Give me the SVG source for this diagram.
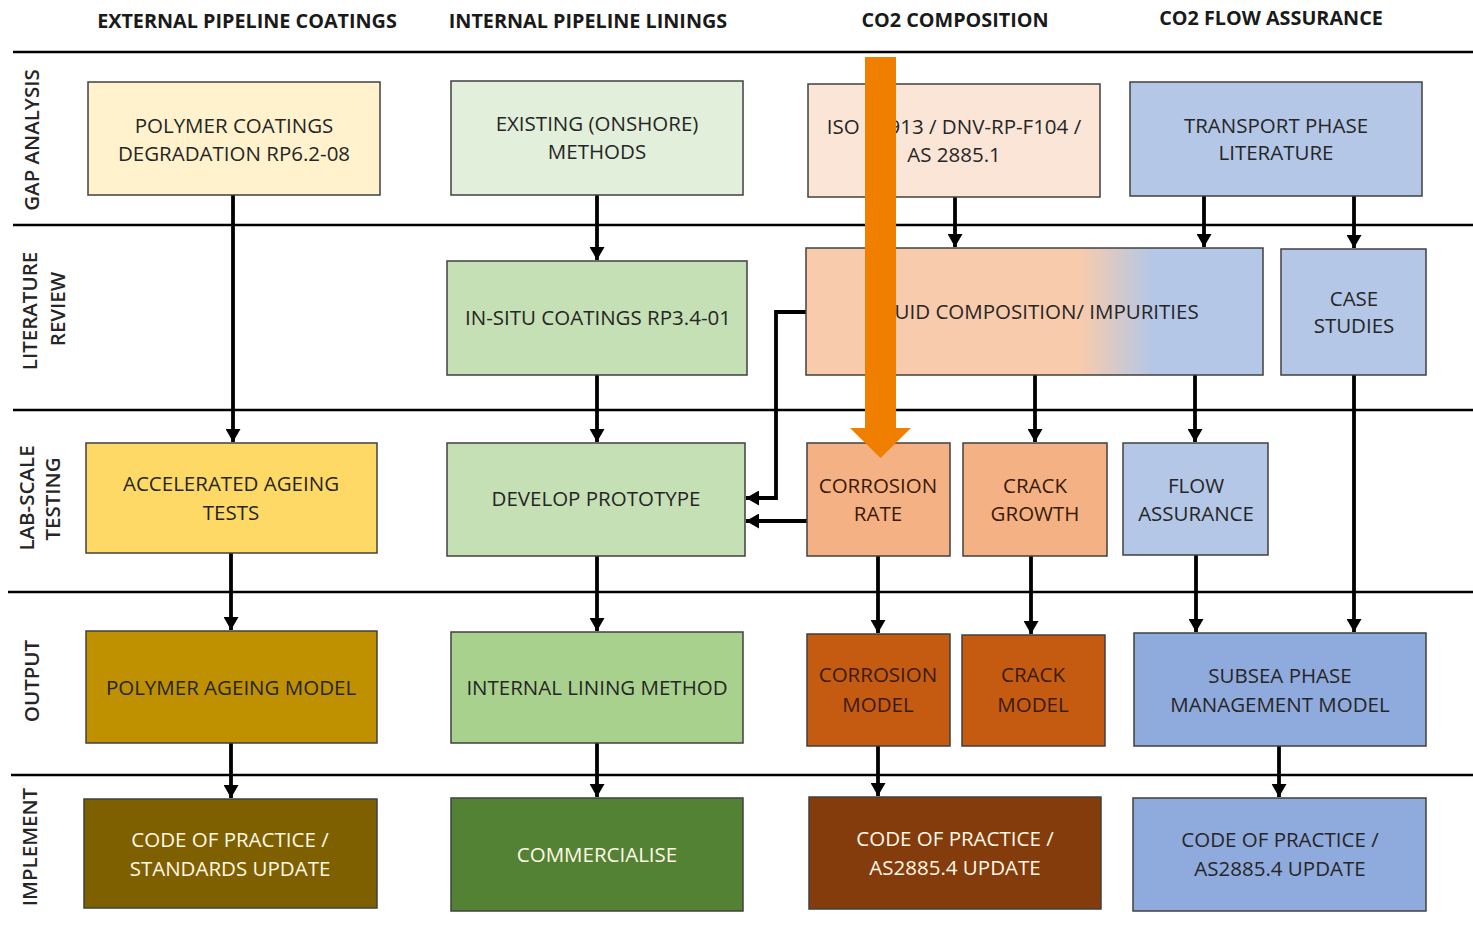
<svg xmlns="http://www.w3.org/2000/svg" width="1473" height="926" viewBox="0 0 1473 926">
<style>
.bx{stroke:#404040;stroke-width:1.5}
.t{font-family:"Open Sans","Liberation Sans",sans-serif;font-size:20.5px;fill:#262626;text-anchor:middle}
.tw{font-family:"Open Sans","Liberation Sans",sans-serif;font-size:20.5px;fill:#FFF8E6;text-anchor:middle}
.tb{font-family:"Open Sans","Liberation Sans",sans-serif;font-size:20.5px;fill:#3a1a08;text-anchor:middle}
.h{font-family:"Open Sans","Liberation Sans",sans-serif;font-size:19.8px;font-weight:700;fill:#1a1a1a;text-anchor:middle}
.r{font-family:"Open Sans","Liberation Sans",sans-serif;font-size:20.5px;font-weight:600;fill:#262626;text-anchor:middle}
.sep{stroke:#000;stroke-width:2.5}
.c{stroke:#000;stroke-width:3.8;fill:none}
</style>
<defs>
<marker id="ah" markerUnits="userSpaceOnUse" markerWidth="15" markerHeight="15" refX="13" refY="7.5" orient="auto">
<path d="M0,0 L13,7.5 L0,15 Z" fill="#000"/>
</marker>
<linearGradient id="fg" x1="806" y1="0" x2="1263" y2="0" gradientUnits="userSpaceOnUse">
<stop offset="0" stop-color="#F8CBAD"/>
<stop offset="0.6" stop-color="#F8CBAD"/>
<stop offset="0.76" stop-color="#B4C7E7"/>
<stop offset="1" stop-color="#B4C7E7"/>
</linearGradient>
</defs>
<rect width="1473" height="926" fill="#fff"/>

<g id="headers">
<text class="h" x="247" y="28">EXTERNAL PIPELINE COATINGS</text>
<text class="h" x="588" y="28">INTERNAL PIPELINE LININGS</text>
<text class="h" x="955" y="27">CO2 COMPOSITION</text>
<text class="h" x="1271" y="25">CO2 FLOW ASSURANCE</text>
</g>

<g id="separators">
<line class="sep" x1="13" y1="52" x2="1473" y2="52" stroke-width="3"/>
<line class="sep" x1="13" y1="225" x2="1473" y2="225"/>
<line class="sep" x1="13" y1="410" x2="1473" y2="410"/>
<line class="sep" x1="8" y1="592" x2="1473" y2="592"/>
<line class="sep" x1="11" y1="775" x2="1473" y2="775"/>
</g>

<g id="row-labels">
<text class="r" transform="translate(39,140) rotate(-90)">GAP ANALYSIS</text>
<text class="r" transform="translate(37,311) rotate(-90)">LITERATURE</text>
<text class="r" transform="translate(65,309) rotate(-90)">REVIEW</text>
<text class="r" transform="translate(34,498) rotate(-90)">LAB-SCALE</text>
<text class="r" transform="translate(60,499) rotate(-90)">TESTING</text>
<text class="r" transform="translate(39,681) rotate(-90)">OUTPUT</text>
<text class="r" transform="translate(37,847) rotate(-90)">IMPLEMENT</text>
</g>

<g id="connectors">
<line class="c" x1="233" y1="195" x2="233" y2="442" marker-end="url(#ah)"/>
<line class="c" x1="231" y1="553" x2="231" y2="630" marker-end="url(#ah)"/>
<line class="c" x1="231" y1="743" x2="231" y2="798" marker-end="url(#ah)"/>
<line class="c" x1="597" y1="195" x2="597" y2="260" marker-end="url(#ah)"/>
<line class="c" x1="597" y1="375" x2="597" y2="442" marker-end="url(#ah)"/>
<line class="c" x1="597" y1="556" x2="597" y2="631" marker-end="url(#ah)"/>
<line class="c" x1="597" y1="743" x2="597" y2="797" marker-end="url(#ah)"/>
<line class="c" x1="955" y1="197" x2="955" y2="247" marker-end="url(#ah)"/>
<line class="c" x1="1204" y1="196" x2="1204" y2="247" marker-end="url(#ah)"/>
<line class="c" x1="1354" y1="196" x2="1354" y2="248" marker-end="url(#ah)"/>
<path class="c" d="M806,312 H776 V498 H746" marker-end="url(#ah)"/>
<line class="c" x1="807" y1="521" x2="746" y2="521" marker-end="url(#ah)"/>
<line class="c" x1="1035" y1="375" x2="1035" y2="442" marker-end="url(#ah)"/>
<line class="c" x1="1195" y1="375" x2="1195" y2="442" marker-end="url(#ah)"/>
<line class="c" x1="1354" y1="375" x2="1354" y2="632" marker-end="url(#ah)"/>
<line class="c" x1="878" y1="556" x2="878" y2="633" marker-end="url(#ah)"/>
<line class="c" x1="1031" y1="556" x2="1031" y2="634" marker-end="url(#ah)"/>
<line class="c" x1="1196" y1="555" x2="1196" y2="632" marker-end="url(#ah)"/>
<line class="c" x1="878" y1="746" x2="878" y2="796" marker-end="url(#ah)"/>
<line class="c" x1="1279" y1="746" x2="1279" y2="797" marker-end="url(#ah)"/>
</g>

<g id="polymer-coatings">
<rect class="bx" x="88" y="82" width="292" height="113" fill="#FFF2CC"/>
<text class="t" x="234" y="133.3">POLYMER COATINGS</text>
<text class="t" x="234" y="161.3">DEGRADATION RP6.2-08</text>
</g>
<g id="existing-methods">
<rect class="bx" x="451" y="81" width="292" height="114" fill="#E2EFDA"/>
<text class="t" x="597" y="131.3">EXISTING (ONSHORE)</text>
<text class="t" x="597" y="159.3">METHODS</text>
</g>
<g id="iso">
<rect class="bx" x="808" y="84" width="292" height="113" fill="#FBE5D6"/>
<text class="t" x="954" y="134.3">ISO 27913 / DNV-RP-F104 /</text>
<text class="t" x="954" y="162.3">AS 2885.1</text>
</g>
<g id="transport-phase">
<rect class="bx" x="1130" y="82" width="292" height="114" fill="#B4C7E7"/>
<text class="t" x="1276" y="133.3">TRANSPORT PHASE</text>
<text class="t" x="1276" y="160.3">LITERATURE</text>
</g>

<g id="in-situ">
<rect class="bx" x="447" y="261" width="300" height="114" fill="#C5E0B4"/>
<text class="t" x="598" y="325.3">IN-SITU COATINGS RP3.4-01</text>
</g>
<g id="fluid-composition">
<rect class="bx" x="806" y="248" width="457" height="127" fill="url(#fg)"/>
<text class="t" x="1036" y="319.3">FLUID COMPOSITION/ IMPURITIES</text>
</g>
<g id="case-studies">
<rect class="bx" x="1281" y="249" width="145" height="126" fill="#B4C7E7"/>
<text class="t" x="1354" y="306.3">CASE</text>
<text class="t" x="1354" y="333.3">STUDIES</text>
</g>

<g id="accelerated-ageing">
<rect class="bx" x="86" y="443" width="291" height="110" fill="#FFD966"/>
<text class="t" x="231" y="491.3">ACCELERATED AGEING</text>
<text class="t" x="231" y="520.3">TESTS</text>
</g>
<g id="develop-prototype">
<rect class="bx" x="447" y="443" width="298" height="113" fill="#C5E0B4"/>
<text class="t" x="596" y="506.3">DEVELOP PROTOTYPE</text>
</g>
<g id="corrosion-rate">
<rect class="bx" x="807" y="443" width="143" height="113" fill="#F4B183"/>
<text class="tb" x="878" y="493.3">CORROSION</text>
<text class="tb" x="878" y="521.3">RATE</text>
</g>
<g id="crack-growth">
<rect class="bx" x="963" y="443" width="144" height="113" fill="#F4B183"/>
<text class="tb" x="1035" y="493.3">CRACK</text>
<text class="tb" x="1035" y="521.3">GROWTH</text>
</g>
<g id="flow-assurance">
<rect class="bx" x="1123" y="443" width="145" height="112" fill="#B4C7E7"/>
<text class="t" x="1196" y="493.3">FLOW</text>
<text class="t" x="1196" y="521.3">ASSURANCE</text>
</g>

<g id="polymer-ageing-model">
<rect class="bx" x="86" y="631" width="291" height="112" fill="#BF9000"/>
<text class="t" x="231" y="695.3">POLYMER AGEING MODEL</text>
</g>
<g id="internal-lining-method">
<rect class="bx" x="451" y="632" width="292" height="111" fill="#A9D18E"/>
<text class="t" x="597" y="695.3">INTERNAL LINING METHOD</text>
</g>
<g id="corrosion-model">
<rect class="bx" x="807" y="634" width="143" height="112" fill="#C55A11"/>
<text class="tb" x="878" y="682.3">CORROSION</text>
<text class="tb" x="878" y="712.3">MODEL</text>
</g>
<g id="crack-model">
<rect class="bx" x="962" y="635" width="143" height="111" fill="#C55A11"/>
<text class="tb" x="1033" y="682.3">CRACK</text>
<text class="tb" x="1033" y="712.3">MODEL</text>
</g>
<g id="subsea-model">
<rect class="bx" x="1134" y="633" width="292" height="113" fill="#8FAADC"/>
<text class="t" x="1280" y="683.3">SUBSEA PHASE</text>
<text class="t" x="1280" y="712.3">MANAGEMENT MODEL</text>
</g>

<g id="standards-update">
<rect class="bx" x="84" y="799" width="293" height="109" fill="#7F6000"/>
<text class="tw" x="230" y="847.3">CODE OF PRACTICE /</text>
<text class="tw" x="230" y="876.3">STANDARDS UPDATE</text>
</g>
<g id="commercialise">
<rect class="bx" x="451" y="798" width="292" height="113" fill="#548235"/>
<text class="tw" x="597" y="862.3">COMMERCIALISE</text>
</g>
<g id="as2885-update-brown">
<rect class="bx" x="809" y="797" width="292" height="112" fill="#843C0C"/>
<text class="tw" x="955" y="846.3">CODE OF PRACTICE /</text>
<text class="tw" x="955" y="875.3">AS2885.4 UPDATE</text>
</g>
<g id="as2885-update-blue">
<rect class="bx" x="1133" y="798" width="293" height="113" fill="#8FAADC"/>
<text class="t" x="1280" y="847.3">CODE OF PRACTICE /</text>
<text class="t" x="1280" y="876.3">AS2885.4 UPDATE</text>
</g>

<g id="orange-arrow">
<path d="M865,57 H896 V428 H911 L880.5,458 L850,428 H865 Z" fill="#F07F00"/>
</g>
</svg>
